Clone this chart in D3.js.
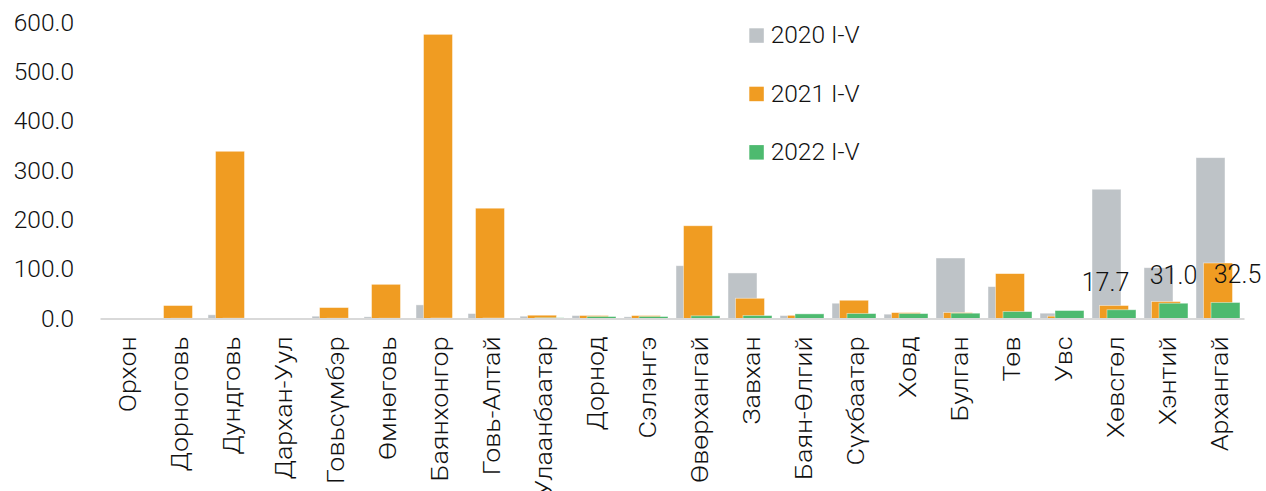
<!DOCTYPE html>
<html>
<head>
<meta charset="utf-8">
<script src="https://cdn.jsdelivr.net/npm/d3@7"></script>
<style>
  html, body { margin: 0; padding: 0; background: #fff; }
  svg { display: block; }
</style>
</head>
<body>
<div id="chart"></div>
<script>
const categories = ["Орхон","Дорноговь","Дундговь","Дархан-Уул","Говьсүмбэр","Өмнөговь","Баянхонгор","Говь-Алтай","Улаанбаатар","Дорнод","Сэлэнгэ","Өвөрхангай","Завхан","Баян-Өлгий","Сүхбаатар","Ховд","Булган","Төв","Увс","Хөвсгөл","Хэнтий","Архангай"];
const seriesNames = ["2020 I-V", "2021 I-V", "2022 I-V"];
const values2020 = [0.3, 0.5, 7.5, 0.5, 4.7, 3.4, 27.6, 10.0, 4.7, 6.0, 3.4, 107.0, 92.3, 6.0, 31.0, 8.8, 122.6, 64.6, 10.8, 262.0, 103.0, 326.0];
const values2021 = [0.3, 26.3, 339.0, 1.0, 22.2, 69.3, 576.0, 223.6, 6.7, 6.0, 6.0, 188.0, 41.0, 6.4, 37.0, 12.0, 12.0, 91.0, 4.7, 26.3, 34.3, 112.5];
const values2022 = [0.3, 0.5, 0.6, 0.3, 0.5, 0.5, 0.8, 0.8, 1.5, 4.0, 4.0, 5.4, 6.0, 9.4, 10.0, 10.0, 10.8, 14.0, 16.2, 17.7, 31.0, 32.5];
const yTicks = [0, 100, 200, 300, 400, 500, 600];
const labelledCategories = ["Хөвсгөл", "Хэнтий", "Архангай"];

const W = 1266, H = 491;
const colors = ["#bec3c7", "#f09c22", "#4dba6f"];
const seriesData = [values2020, values2021, values2022];
const labelNudge = [-16, 0, 12];

const svg = d3.select("#chart").append("svg").attr("width", W).attr("height", H);

const x = d3.scaleBand().domain(categories).range([100, 1244]).paddingInner(0).paddingOuter(0);
const y = d3.scaleLinear().domain([0, 600]).range([318.5, 22.5]);

const barW = 29, off = 7.5;

// y tick labels
const yAxis = d3.axisLeft(y).tickValues(yTicks).tickFormat(d3.format(".1f")).tickSize(0).tickPadding(0);
const yg = svg.append("g").attr("transform", "translate(74,0)").call(yAxis);
yg.select(".domain").remove();
yg.selectAll("text")
  .attr("font-family", "Roboto, sans-serif")
  .attr("font-size", 24.5)
  .attr("font-weight", 300)
  .attr("fill", "#111")
  .attr("dy", "0.33em")
  .attr("y", -0.5);

// bars
seriesData.forEach((vals, si) => {
  svg.append("g").selectAll("rect")
    .data(categories.map((c, i) => ({ c, v: vals[i] })))
    .join("rect")
    .attr("x", d => x(d.c) + x.bandwidth() / 2 + (si - 1) * off - barW / 2)
    .attr("width", barW)
    .attr("y", d => y(d.v))
    .attr("height", d => y(0) - y(d.v))
    .attr("fill", colors[si])
    .attr("stroke", "#ffffff")
    .attr("stroke-opacity", 0.55)
    .attr("stroke-width", 0.8);
});

// x axis
const xAxis = d3.axisBottom(x).tickSize(0).tickPadding(0);
const xg = svg.append("g").attr("transform", `translate(0,${y(0)})`).call(xAxis);
xg.select(".domain").attr("stroke", "#d9d9d9").attr("stroke-width", 2.2);
xg.selectAll("text")
  .attr("font-family", "Roboto, sans-serif")
  .attr("font-weight", 300)
  .attr("font-size", 24)
  .attr("fill", "#111")
  .attr("text-anchor", "end")
  .attr("transform", "rotate(-90) scale(1.12,1)")
  .attr("x", -16)
  .attr("y", 1.5)
  .attr("dy", "0.35em");

// data labels (2022 series, last three categories)
svg.append("g").selectAll("text")
  .data(labelledCategories.map((c, k) => ({ c, v: values2022[categories.indexOf(c)], k })))
  .join("text")
  .attr("x", d => x(d.c) + x.bandwidth() / 2 + off + labelNudge[d.k])
  .attr("y", d => y(d.v) - 19)
  .attr("text-anchor", "middle")
  .attr("font-family", "Roboto, sans-serif")
  .attr("font-size", 25)
  .attr("font-weight", 300)
  .attr("fill", "#111")
  .text(d => d3.format(".1f")(d.v));

// legend
const lg = svg.append("g").attr("transform", "translate(749.3,28.3)");
seriesNames.forEach((n, i) => {
  const row = lg.append("g").attr("transform", `translate(0,${i * 58.4})`);
  row.append("rect").attr("width", 14.5).attr("height", 14.5).attr("fill", colors[i]);
  row.append("text")
    .attr("x", 21.4)
    .attr("y", 15)
    .attr("font-family", "Roboto, sans-serif")
    .attr("font-size", 24.5)
    .attr("font-weight", 300)
    .attr("fill", "#111")
    .text(n);
});
</script>
</body>
</html>
